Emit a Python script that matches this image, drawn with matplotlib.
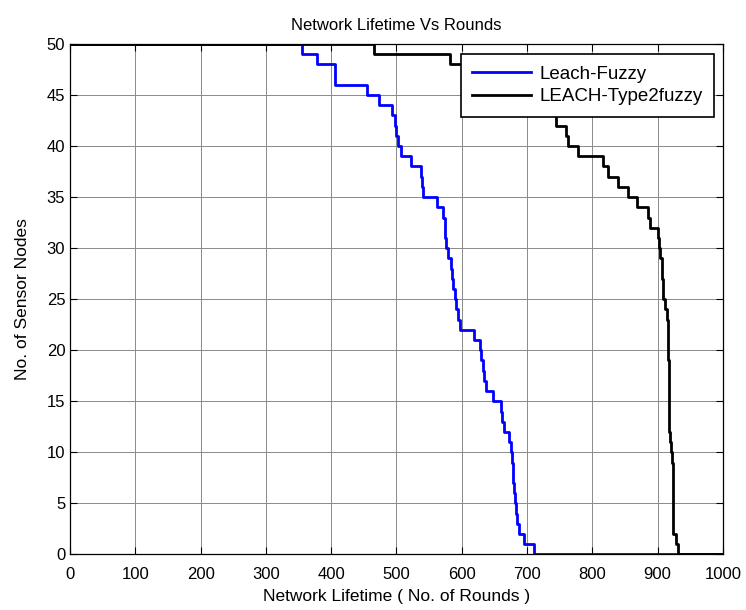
import numpy as np
import matplotlib
matplotlib.use("Agg")
import matplotlib.pyplot as plt

plt.rcParams['font.family'] = ['Liberation Sans', 'DejaVu Sans']

# round at which each of the 50 nodes died
leach_fuzzy_deaths = [355, 378, 406, 406, 455, 473, 493, 497, 500, 503,
                      507, 522, 537, 539, 541, 562, 572, 574, 575, 576,
                      579, 583, 585, 587, 589, 591, 594, 597, 618, 628,
                      630, 632, 634, 637, 648, 660, 662, 665, 672, 675,
                      677, 678, 679, 680, 681, 683, 685, 688, 695, 710]
type2_fuzzy_deaths = [466, 582, 640, 680, 705, 725, 740, 745, 760, 763,
                      778, 816, 824, 840, 855, 869, 886, 888, 901, 902,
                      904, 906, 907, 908, 909, 911, 914, 916, 916, 916,
                      916, 917, 917, 917, 917, 918, 918, 918, 919, 921,
                      922, 923, 923, 923, 923, 924, 924, 924, 928, 932]
n_nodes = 50
max_rounds = 1000
series_names = ["Leach-Fuzzy", "LEACH-Type2fuzzy"]


def alive_curve(deaths):
    d = sorted(deaths)
    x = [0] + d + [max_rounds]
    y = [n_nodes] + [n_nodes - i - 1 for i in range(len(d))] + [n_nodes - len(d)]
    return x, y


fig = plt.figure(figsize=(7.46, 6.10), dpi=100)
ax = fig.add_axes([0.094, 0.091, 0.875, 0.837])

x1, y1 = alive_curve(leach_fuzzy_deaths)
x2, y2 = alive_curve(type2_fuzzy_deaths)
ax.plot(x1, y1, drawstyle='steps-post', color='#0000ff', lw=2, label=series_names[0])
ax.plot(x2, y2, drawstyle='steps-post', color='black', lw=2, label=series_names[1])

ax.set_xlim(0, 1000)
ax.set_ylim(0, 50)
ax.set_xticks(np.arange(0, 1001, 100))
ax.set_yticks(np.arange(0, 51, 5))
ax.grid(True, color='#8a8a8a', lw=0.7)
ax.tick_params(direction='in', top=True, right=True, labelsize=12, length=5)
ax.tick_params(axis='x', pad=9)
for s in ax.spines.values():
    s.set_linewidth(0.9)

ax.set_title("Network Lifetime Vs Rounds", fontsize=12, pad=10)
ax.set_xlabel("Network Lifetime ( No. of Rounds )", fontsize=12.5, labelpad=5)
ax.set_ylabel("No. of Sensor Nodes", fontsize=12.5, labelpad=12)

leg = ax.legend(loc='upper right', bbox_to_anchor=(0.957, 0.9115),
                bbox_transform=fig.transFigure, borderaxespad=0,
                fontsize=13.5, handlelength=3.1, handletextpad=0.45,
                borderpad=0.62, labelspacing=0.3, fancybox=False,
                framealpha=1, edgecolor='black')
leg.get_frame().set_linewidth(1.2)

fig.savefig("out.png", dpi=100)
